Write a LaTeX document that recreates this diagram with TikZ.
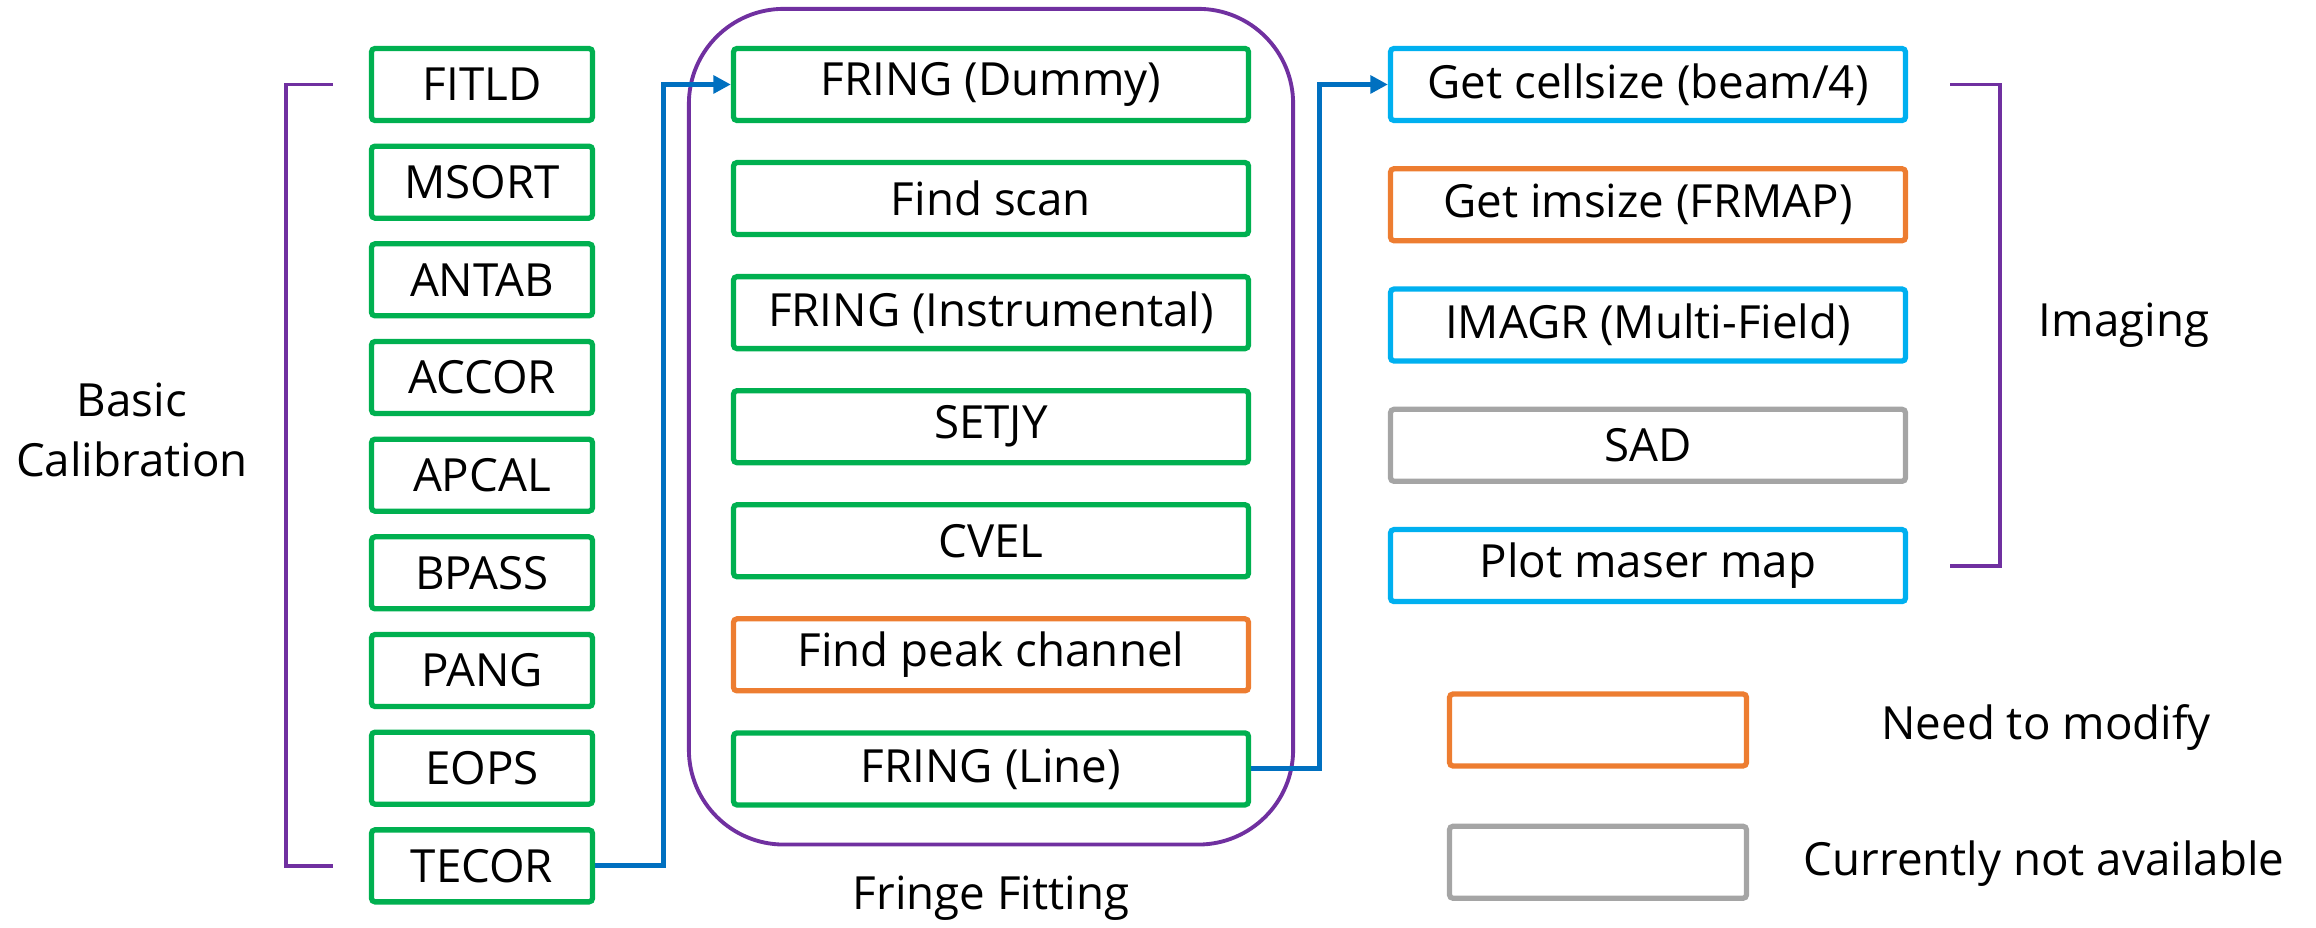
\documentclass[tikz,border=0pt]{standalone}
\usepackage{fontspec}
\setmainfont{Open Sans}
\usetikzlibrary{positioning, fit, arrows.meta}

\definecolor{calibgreen}{HTML}{00B050}
\definecolor{imgblue}{HTML}{00B0F0}
\definecolor{modorange}{HTML}{ED7D31}
\definecolor{nagray}{HTML}{A5A5A5}
\definecolor{grouppurple}{HTML}{7030A0}
\definecolor{flowblue}{HTML}{0070C0}

\begin{document}
\begin{tikzpicture}[font=\fontsize{13}{17}\selectfont,
	task/.style={draw=calibgreen, line width=1.5pt, rounded corners=1pt, minimum height=0.72cm, inner sep=0pt},
	calib/.style={task, minimum width=2.21cm},
	fringe/.style={task, minimum width=5.15cm},
	imaging/.style={task, draw=imgblue, minimum width=5.15cm},
	legendbox/.style={task, minimum width=2.97cm},
	flow/.style={draw=flowblue, line width=1.4pt, -{Triangle[length=5pt, width=5pt]}},
	group/.style={draw=grouppurple, line width=1.1pt}]
	\useasboundingbox (0,0) rectangle (23.16,-9.28);

	% basic calibration
	\node[calib] (fitld) at (4.82,-0.845) {FITLD};
	\node[calib] (msort) [below=0.204cm of fitld] {MSORT};
	\node[calib] (antab) [below=0.204cm of msort] {ANTAB};
	\node[calib] (accor) [below=0.204cm of antab] {ACCOR};
	\node[calib] (apcal) [below=0.204cm of accor] {APCAL};
	\node[calib] (bpass) [below=0.204cm of apcal] {BPASS};
	\node[calib] (pang)  [below=0.204cm of bpass] {PANG};
	\node[calib] (eops)  [below=0.204cm of pang]  {EOPS};
	\node[calib] (tecor) [below=0.204cm of eops]  {TECOR};

	% fringe fitting
	\node[fringe] (fringdummy) at (9.91,-0.845) {FRING (Dummy)};
	\node[fringe] (findscan)   [below=0.368cm of fringdummy] {Find scan};
	\node[fringe] (fringinst)  [below=0.368cm of findscan]   {FRING (Instrumental)};
	\node[fringe] (setjy)      [below=0.368cm of fringinst]  {SETJY};
	\node[fringe] (cvel)       [below=0.368cm of setjy]      {CVEL};
	\node[fringe, draw=modorange] (findpeak) [below=0.368cm of cvel] {Find peak channel};
	\node[fringe] (fringline)  [below=0.368cm of findpeak]   {FRING (Line)};

	% imaging
	\node[imaging] (cellsize) at (16.48,-0.845) {Get cellsize (beam/4)};
	\node[imaging, draw=modorange] (imsize) [below=0.43cm of cellsize] {Get imsize (FRMAP)};
	\node[imaging] (imagr)    [below=0.43cm of imsize]   {IMAGR (Multi-Field)};
	\node[imaging, draw=nagray] (sad) [below=0.43cm of imagr] {SAD};
	\node[imaging] (masermap) [below=0.43cm of sad]      {Plot maser map};

	% legend
	\node[legendbox, draw=modorange] (legmod) at (15.98,-7.30) {};
	\node[legendbox, draw=nagray]    (legna)  [below=0.55cm of legmod] {};
	\node (legmodtext) at (20.46,-7.28) {Need to modify};
	\node (legnatext)  at (20.44,-8.64) {Currently not available};

	% groups
	\node[group, fit=(fringdummy)(fringline), inner xsep=0.42cm, inner ysep=0.37cm, rounded corners=0.95cm] (fringebox) {};
	\node (fringelabel) at ([yshift=-0.52cm]fringebox.south) {Fringe Fitting};
	\draw[group] ([xshift=-0.36cm]fitld.west) -| ([xshift=-0.83cm]tecor.west) -- ([xshift=-0.36cm]tecor.west);
	\node[align=center] (caliblabel) at (1.32,-4.30) {Basic\\Calibration};
	\draw[group] ([xshift=0.42cm]cellsize.east) -| ([xshift=0.92cm]masermap.east) -- ([xshift=0.42cm]masermap.east);
	\node (imaginglabel) at (21.24,-3.25) {Imaging};

	% flow
	\draw[flow] (tecor.east) -- ++(0.68,0) |- (fringdummy.west);
	\draw[flow] (fringline.east) -- ++(0.68,0) |- (cellsize.west);
\end{tikzpicture}
\end{document}
